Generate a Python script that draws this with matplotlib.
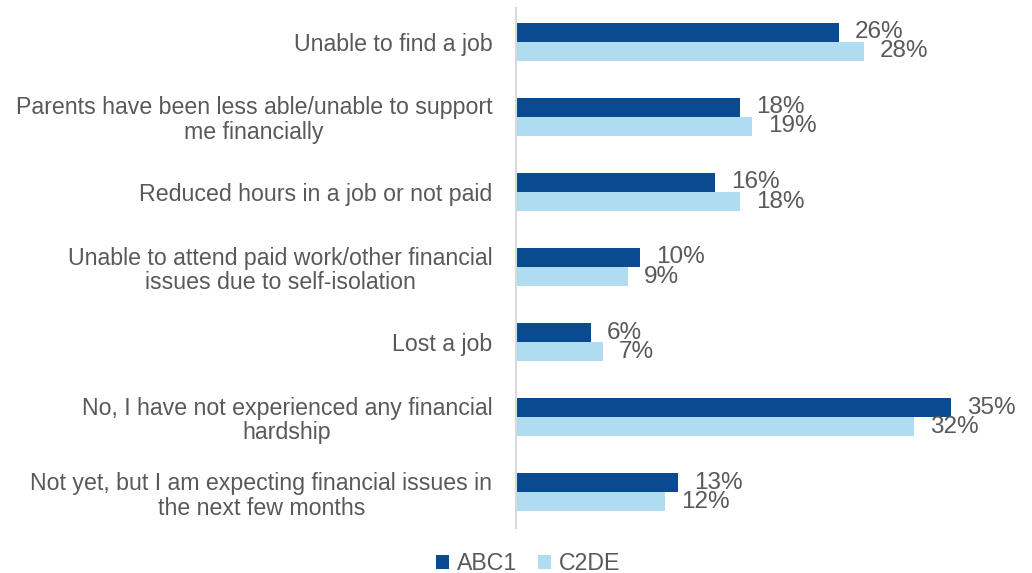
import numpy as np
import matplotlib.pyplot as plt

plt.rcParams['font.family'] = ['Liberation Sans', 'DejaVu Sans']

categories = [
    "Unable to find a job",
    "Parents have been less able/unable to support\nme financially",
    "Reduced hours in a job or not paid",
    "Unable to attend paid work/other financial\nissues due to self-isolation",
    "Lost a job",
    "No, I have not experienced any financial\nhardship",
    "Not yet, but I am expecting financial issues in\nthe next few months",
]
abc1 = [26, 18, 16, 10, 6, 35, 13]
c2de = [28, 19, 18, 9, 7, 32, 12]

dark = '#0a4a91'
light = '#afdcf0'
grey = '#595959'

fig = plt.figure(figsize=(10.32, 5.73), dpi=100)
ax = fig.add_axes([0.5, 0.078, 0.4767, 0.908])

y = np.arange(len(categories))
h = 0.255
ax.barh(y - h / 2, abc1, height=h, color=dark, label='ABC1')
ax.barh(y + h / 2, c2de, height=h, color=light, label='C2DE')

# value labels just right of each bar
for yi, v in zip(y, abc1):
    ax.text(v + 1.3, yi - h / 2, f"{v}%", va='center', ha='left', fontsize=17.5, color=grey)
for yi, v in zip(y, c2de):
    ax.text(v + 1.3, yi + h / 2, f"{v}%", va='center', ha='left', fontsize=17.5, color=grey)

ax.set_xlim(0, 39.6)
ax.set_ylim(6.48, -0.45)
ax.set_yticks(y)
ax.set_yticklabels(categories, fontsize=16.7, color=grey, ha='right',
                   multialignment='center', linespacing=1.1)
ax.tick_params(axis='y', length=0, pad=17)
ax.set_xticks([])
for s in ['top', 'right', 'bottom']:
    ax.spines[s].set_visible(False)
ax.spines['left'].set_color('#d9d9d9')
ax.spines['left'].set_linewidth(1.5)

fig.legend(loc='lower center', bbox_to_anchor=(0.512, -0.04), ncol=2, frameon=False,
           fontsize=16.7, labelcolor=grey, handlelength=0.55, handleheight=0.55,
           handletextpad=0.35, columnspacing=0.9)

fig.savefig('out.png', dpi=100)
